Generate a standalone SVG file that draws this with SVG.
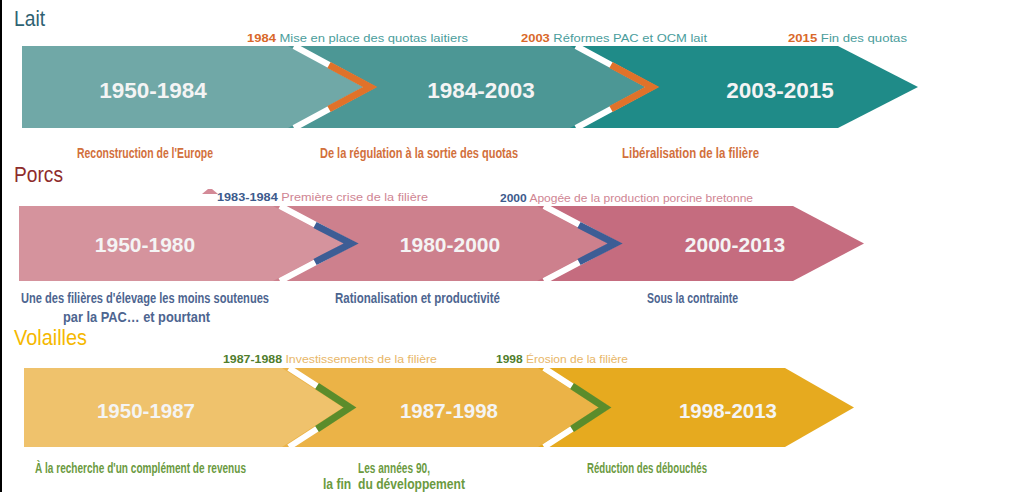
<svg xmlns="http://www.w3.org/2000/svg" width="1033" height="492" viewBox="0 0 1033 492">
<style>
.title{font-family:"Liberation Sans",Arial,sans-serif;font-size:22px}
.big{font-family:"Liberation Sans",Arial,sans-serif;font-weight:bold;fill:#f4f4f4;text-anchor:middle}
.ann{font-family:"Liberation Sans",Arial,sans-serif;font-size:11px}
.yr{font-weight:bold}
.lbl{font-family:"Liberation Sans",Arial,sans-serif;font-size:15.5px;font-weight:bold}
.band{fill:none;stroke:#fff;stroke-width:6;stroke-linejoin:miter}
.chev{fill:none;stroke-width:7;stroke-linejoin:miter;stroke-miterlimit:10}
</style>
<rect x="0" y="0" width="1033" height="492" fill="#fff"/>
<rect x="0" y="0" width="2" height="492" fill="#000"/>

<!-- Lait -->
<text id="t-lait" class="title" x="14" y="26" fill="#2e6272" textLength="31" lengthAdjust="spacingAndGlyphs">Lait</text>
<g id="lait-3"><polygon points="560,46 838,46 918,87 838,128 560,128" fill="#1f8b88"/><text class="big" x="780" y="98" font-size="22.5">2003-2015</text></g>
<g id="lait-2"><polygon points="280,46 570,46 646,87 570,128 280,128" fill="#4c9795"/><text class="big" x="481" y="98" font-size="22.5">1984-2003</text></g>
<g id="lait-1"><polygon points="22,46 288,46 364,87 288,128 22,128" fill="#70a8a7"/><text class="big" x="153" y="98" font-size="22.5">1950-1984</text></g>

<!-- Porcs -->
<text id="t-porcs" class="title" x="14" y="182" fill="#8e2c2c" textLength="49" lengthAdjust="spacingAndGlyphs">Porcs</text>
<g id="porcs-3"><polygon points="527,206 793,206 864,243.5 793,281 527,281" fill="#c56c7f"/><text class="big" x="735" y="252" font-size="21">2000-2013</text></g>
<g id="porcs-2"><polygon points="265,206 537,206 608,243.5 537,281 265,281" fill="#cd808d"/><text class="big" x="450" y="252" font-size="21">1980-2000</text></g>
<g id="porcs-1"><polygon points="19,206 273,206 344,243.5 273,281 19,281" fill="#d5939d"/><text class="big" x="145" y="252" font-size="21">1950-1980</text></g>

<!-- Volailles -->
<text id="t-volailles" class="title" x="14" y="345" fill="#f5b800" textLength="73" lengthAdjust="spacingAndGlyphs">Volailles</text>
<g id="vol-3"><polygon points="530,368 785,368 854,407.5 785,447 530,447" fill="#e6aa1f"/><text class="big" x="728" y="418" font-size="20.5">1998-2013</text></g>
<g id="vol-2"><polygon points="272,368 538,368 599,407.5 538,447 272,447" fill="#ebb347"/><text class="big" x="449" y="418" font-size="20.5">1987-1998</text></g>
<g id="vol-1"><polygon points="24,368 282,368 343,407.5 282,447 24,447" fill="#efc26c"/><text class="big" x="146" y="418" font-size="20.5">1950-1987</text></g>

<g id="connectors">
  <polyline class="band" points="294,46 370,87 294,128"/>
  <polyline class="chev" stroke="#e0722a" points="329,65 370,87 329,109"/>
  <polyline class="band" points="576,46 652,87 576,128"/>
  <polyline class="chev" stroke="#e0722a" points="611,65 652,87 611,109"/>

  <polyline class="band" points="280,206 351,243.5 280,281"/>
  <polyline class="chev" stroke="#3d5d95" points="315,225 351,243.5 315,262"/>
  <polyline class="band" points="544,206 615,243.5 544,281"/>
  <polyline class="chev" stroke="#3d5d95" points="579,225 615,243.5 579,262"/>

  <polyline class="band" points="289,368 350,407.5 289,447"/>
  <polyline class="chev" stroke="#5b8c2b" points="317,386 350,407.5 317,429"/>
  <polyline class="band" points="544,368 605,407.5 544,447"/>
  <polyline class="chev" stroke="#5b8c2b" points="572,386 605,407.5 572,429"/>
</g>

<!-- annotations -->
<g id="ann-lait" class="ann" fill="#4a9d9c">
  <text x="247" y="42" textLength="221" lengthAdjust="spacingAndGlyphs"><tspan class="yr" fill="#d9682a">1984</tspan> Mise en place des quotas laitiers</text>
  <text x="521" y="42" textLength="186" lengthAdjust="spacingAndGlyphs"><tspan class="yr" fill="#d9682a">2003</tspan> Réformes PAC et OCM lait</text>
  <text x="788" y="42" textLength="119" lengthAdjust="spacingAndGlyphs"><tspan class="yr" fill="#d9682a">2015</tspan> Fin des quotas</text>
</g>
<g id="ann-porcs" class="ann" fill="#cf8593">
  <polygon points="202,194 208,189 212,189 218,194" fill="#d38a97"/>
  <text x="217" y="201" textLength="211" lengthAdjust="spacingAndGlyphs"><tspan class="yr" fill="#3c5a8c">1983-1984</tspan> Première crise de la filière</text>
  <text x="500" y="202" textLength="253" lengthAdjust="spacingAndGlyphs"><tspan class="yr" fill="#3c5a8c">2000</tspan> Apogée de la production porcine bretonne</text>
</g>
<g id="ann-vol" class="ann" fill="#e8b667">
  <text x="223" y="363" textLength="214" lengthAdjust="spacingAndGlyphs"><tspan class="yr" fill="#4f7d2c">1987-1988</tspan> Investissements de la filière</text>
  <text x="496" y="363" textLength="132" lengthAdjust="spacingAndGlyphs"><tspan class="yr" fill="#4f7d2c">1998</tspan> Érosion de la filière</text>
</g>

<!-- period labels -->
<g id="lbl-lait" class="lbl" fill="#d2703c">
  <text x="77" y="158" textLength="136" lengthAdjust="spacingAndGlyphs">Reconstruction de l'Europe</text>
  <text x="320" y="158" textLength="198" lengthAdjust="spacingAndGlyphs">De la régulation à la sortie des quotas</text>
  <text x="622" y="158" textLength="137" lengthAdjust="spacingAndGlyphs">Libéralisation de la filière</text>
</g>
<g id="lbl-porcs" class="lbl" fill="#4d6590">
  <text x="21" y="303" textLength="248" lengthAdjust="spacingAndGlyphs">Une des filières d'élevage les moins soutenues</text>
  <text x="63" y="322" textLength="147" lengthAdjust="spacingAndGlyphs">par la PAC… et pourtant</text>
  <text x="335" y="303" textLength="165" lengthAdjust="spacingAndGlyphs">Rationalisation et productivité</text>
  <text x="647" y="303" textLength="91" lengthAdjust="spacingAndGlyphs">Sous la contrainte</text>
</g>
<g id="lbl-vol" class="lbl" fill="#6b9a3f">
  <text x="35" y="473" textLength="211" lengthAdjust="spacingAndGlyphs">À la recherche d'un complément de revenus</text>
  <text x="358" y="473" textLength="72" lengthAdjust="spacingAndGlyphs">Les années 90,</text>
  <text x="323" y="489" textLength="142" lengthAdjust="spacingAndGlyphs" style="white-space:pre">la fin  du développement</text>
  <text x="587" y="473" textLength="120" lengthAdjust="spacingAndGlyphs">Réduction des débouchés</text>
</g>
</svg>
